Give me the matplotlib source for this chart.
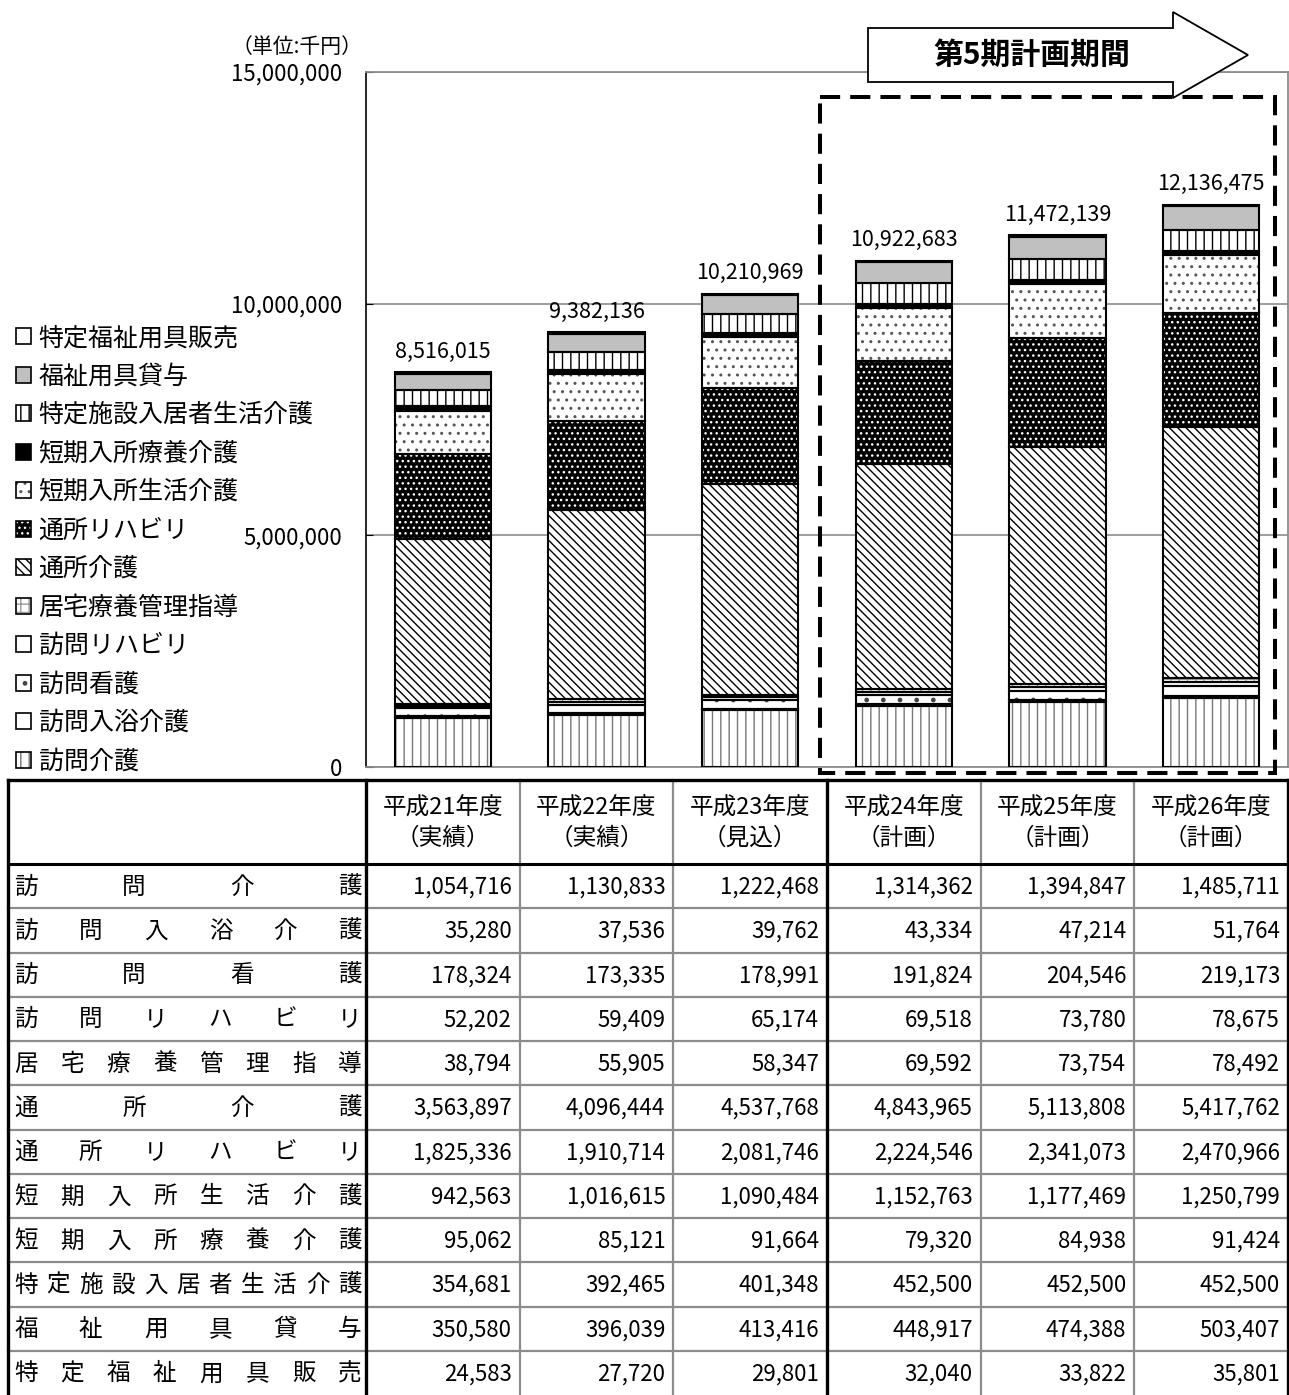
import matplotlib
matplotlib.use('Agg')
import matplotlib.pyplot as plt
from matplotlib.patches import Patch, Rectangle, Polygon
import numpy as np

plt.rcParams['font.family'] = ['Noto Sans CJK JP', 'DejaVu Sans']
plt.rcParams['hatch.linewidth'] = 1.0

# data (千円)
years = ['平成21年度', '平成22年度', '平成23年度', '平成24年度', '平成25年度', '平成26年度']
year_notes = ['（実績）', '（実績）', '（見込）', '（計画）', '（計画）', '（計画）']

services = ['訪問介護', '訪問入浴介護', '訪問看護', '訪問リハビリ', '居宅療養管理指導',
            '通所介護', '通所リハビリ', '短期入所生活介護', '短期入所療養介護',
            '特定施設入居者生活介護', '福祉用具貸与', '特定福祉用具販売']

houmon_kaigo = [1054716, 1130833, 1222468, 1314362, 1394847, 1485711]
houmon_nyuyoku = [35280, 37536, 39762, 43334, 47214, 51764]
houmon_kango = [178324, 173335, 178991, 191824, 204546, 219173]
houmon_reha = [52202, 59409, 65174, 69518, 73780, 78675]
kyotaku_ryoyo = [38794, 55905, 58347, 69592, 73754, 78492]
tsusho_kaigo = [3563897, 4096444, 4537768, 4843965, 5113808, 5417762]
tsusho_reha = [1825336, 1910714, 2081746, 2224546, 2341073, 2470966]
tanki_seikatsu = [942563, 1016615, 1090484, 1152763, 1177469, 1250799]
tanki_ryoyo = [95062, 85121, 91664, 79320, 84938, 91424]
tokutei_shisetsu = [354681, 392465, 401348, 452500, 452500, 452500]
yogu_taiyo = [350580, 396039, 413416, 448917, 474388, 503407]
yogu_hanbai = [24583, 27720, 29801, 32040, 33822, 35801]

values = [houmon_kaigo, houmon_nyuyoku, houmon_kango, houmon_reha, kyotaku_ryoyo,
          tsusho_kaigo, tsusho_reha, tanki_seikatsu, tanki_ryoyo,
          tokutei_shisetsu, yogu_taiyo, yogu_hanbai]
totals = [8516015, 9382136, 10210969, 10922683, 11472139, 12136475]

# (face, hatch, hatch colour) for each service
styles = [
    ('white', '||', '#777777'),
    ('white', None, 'black'),
    ('white', '.', '#444444'),
    ('white', None, 'black'),
    ('white', '++', '#999999'),
    ('white', '\\\\\\\\', 'black'),
    ('black', '...', 'white'),
    ('white', '..', '#555555'),
    ('black', None, 'black'),
    ('white', '||', 'black'),
    ('#c0c0c0', None, 'black'),
    ('white', None, 'black'),
]

W, H = 1289, 1395
fig = plt.figure(figsize=(W / 100, H / 100), dpi=100)


def box(x0, y0, x1, y1):
    return [x0 / W, 1 - y1 / H, (x1 - x0) / W, (y1 - y0) / H]


plot_l, plot_r = 366, 1288
ax = fig.add_axes(box(plot_l, 72, plot_r, 767))
x = np.arange(len(years))
bottom = np.zeros(len(years))
for vals, (fc, hatch, hc) in zip(values, styles):
    ax.bar(x, vals, 0.625, bottom=bottom, color=fc, edgecolor=hc, hatch=hatch,
           linewidth=0, zorder=2)
    outline = ax.bar(x, vals, 0.625, bottom=bottom, fill=False, edgecolor='black',
                     linewidth=1.5, zorder=3)
    bottom += np.array(vals)

ax.bar_label(outline, labels=[f'{t:,}' for t in totals], padding=7, fontsize=15.5)

ax.set_xlim(-0.5, len(years) - 0.5)
ax.set_ylim(0, 15000000)
ax.set_xticks([])
yt = [0, 5000000, 10000000, 15000000]
ax.set_yticks(yt)
ax.set_yticklabels([f'{v:,}' for v in yt])
ax.tick_params(axis='y', direction='in', length=5, pad=17, labelsize=16)
ax.yaxis.grid(True, color='#8c8c8c', linewidth=1.2)
ax.set_axisbelow(True)
for s in ['top', 'right', 'bottom']:
    ax.spines[s].set_color('#8c8c8c')
    ax.spines[s].set_linewidth(1.3)
ax.spines['left'].set_color('black')
ax.spines['left'].set_linewidth(1.2)

fig.text(297 / W, 1 - 47 / H, '（単位:千円）', ha='center', va='center', fontsize=15)

# legend, top entry first
handles = []
for fc, hatch, hc in styles[::-1]:
    handles.append((Patch(facecolor=fc, edgecolor=hc, hatch=hatch, linewidth=0),
                    Patch(fill=False, edgecolor='black', linewidth=1.2)))
fig.legend(handles, services[::-1], loc='upper left',
           bbox_to_anchor=(16 / W, 1 - 325 / H), frameon=False, fontsize=18,
           handlelength=0.6, handleheight=0.6, handletextpad=0.3,
           labelspacing=0.50, borderpad=0, borderaxespad=0)

# overlay in pixel coordinates: table, dashed box, arrow
ov = fig.add_axes([0, 0, 1, 1])
ov.set_xlim(0, W)
ov.set_ylim(H, 0)
ov.axis('off')
ov.set_zorder(5)

col_w = (plot_r - plot_l) / len(years)
col_edges = [plot_l + i * col_w for i in range(len(years) + 1)]
tab_top, head_bot = 780, 864
row_h = (H - head_bot) / len(services)
row_edges = [head_bot + i * row_h for i in range(len(services) + 1)]

# grey inner lines
for yy in row_edges[1:-1]:
    ov.plot([8, plot_r], [yy, yy], color='#8c8c8c', linewidth=1.6)
for i in [1, 2, 4, 5]:
    ov.plot([col_edges[i]] * 2, [tab_top, H], color='#8c8c8c', linewidth=1.6)
# black lines
ov.plot([8, plot_r], [tab_top, tab_top], color='black', linewidth=2.4)
ov.plot([8, plot_r], [head_bot, head_bot], color='black', linewidth=2.2)
for xx in [8, col_edges[0], col_edges[3], plot_r]:
    ov.plot([xx, xx], [tab_top, H], color='black', linewidth=2.4)

for i, (yr, note) in enumerate(zip(years, year_notes)):
    cx = (col_edges[i] + col_edges[i + 1]) / 2
    ov.text(cx, 808, yr, ha='center', va='center', fontsize=17)
    ov.text(cx, 838, note, ha='center', va='center', fontsize=17)

em = 24
for r, name in enumerate(services):
    cy = (row_edges[r] + row_edges[r + 1]) / 2 + 1
    n = len(name)
    left_c, right_c = 14 + em / 2, 362 - em / 2
    for k, ch in enumerate(name):
        cx = left_c + (right_c - left_c) * k / (n - 1)
        ov.text(cx, cy, ch, ha='center', va='center', fontsize=17)
    for i in range(len(years)):
        ov.text(col_edges[i + 1] - 8, cy, f'{values[r][i]:,}', ha='right', va='center',
                fontsize=16)

ov.add_patch(Rectangle((820, 97), 455, 676, fill=False, edgecolor='black',
                       linewidth=2.9, linestyle=(0, (5, 2.5))))

arrow = Polygon([(868, 28), (1173, 28), (1173, 12), (1248, 55), (1173, 98),
                 (1173, 82), (868, 82)], closed=True, facecolor='white',
                edgecolor='black', linewidth=1.3)
ov.add_patch(arrow)
ov.text(1032, 55, '第5期計画期間', ha='center', va='center', fontsize=21.5,
        fontweight='bold')

fig.savefig('out.png', dpi=100)
